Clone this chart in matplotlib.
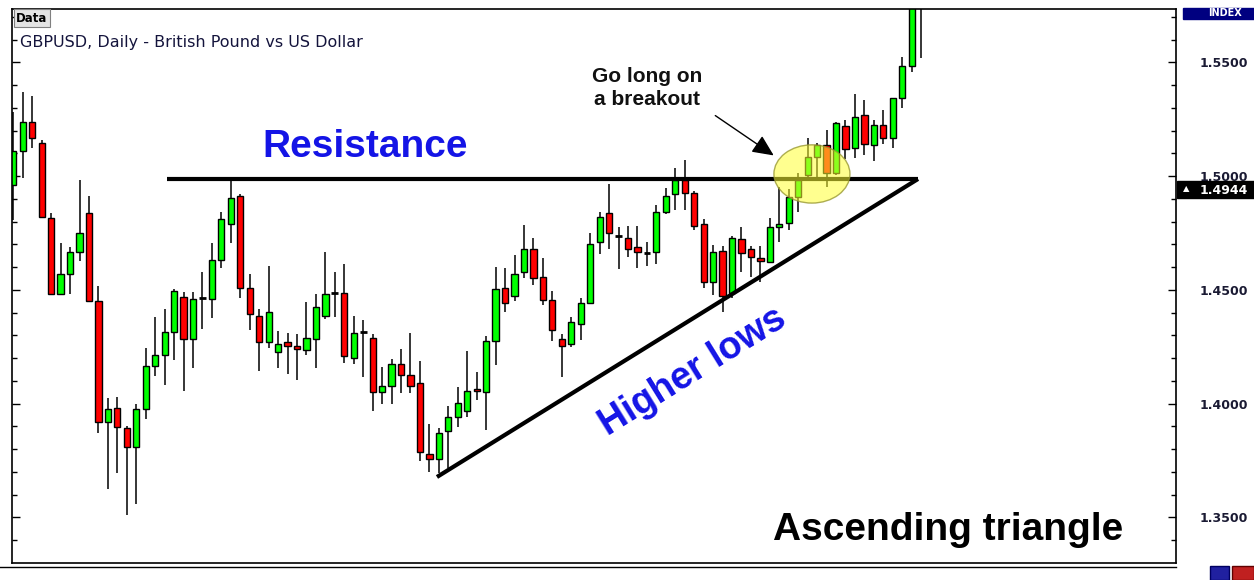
import numpy as np
import matplotlib.pyplot as plt
from matplotlib.patches import Ellipse, Rectangle
from matplotlib.lines import Line2D

# GBPUSD daily candles
opens = [1.4960, 1.5110, 1.5239, 1.5144, 1.4817, 1.4480, 1.4569, 1.4665, 1.4836, 1.4452,
         1.3920, 1.3982, 1.3894, 1.3810, 1.3975, 1.4166, 1.4213, 1.4316, 1.4467, 1.4282,
         1.4465, 1.4459, 1.4631, 1.4788, 1.4912, 1.4509, 1.4385, 1.4269, 1.4228, 1.4269,
         1.4254, 1.4235, 1.4282, 1.4385, 1.4484, 1.4487, 1.4201, 1.4313, 1.4289, 1.4049,
         1.4077, 1.4174, 1.4125, 1.4091, 1.3777, 1.3755, 1.3880, 1.3939, 1.3968, 1.4065,
         1.4051, 1.4275, 1.4509, 1.4473, 1.4577, 1.4679, 1.4557, 1.4455, 1.4282, 1.4262,
         1.4349, 1.4440, 1.4709, 1.4839, 1.4736, 1.4729, 1.4687, 1.4663, 1.4665, 1.4843,
         1.4920, 1.4982, 1.4924, 1.4789, 1.4533, 1.4672, 1.4487, 1.4722, 1.4678, 1.4638,
         1.4623, 1.4777, 1.4795, 1.4909, 1.5004, 1.5085, 1.5136, 1.5012, 1.5220, 1.5122,
         1.5268, 1.5136, 1.5224, 1.5166, 1.5342, 1.5485, 1.5790]
highs = [1.5283, 1.5371, 1.5352, 1.5158, 1.4839, 1.4707, 1.4689, 1.4982, 1.4913, 1.4516,
         1.4025, 1.4030, 1.3902, 1.3998, 1.4245, 1.4382, 1.4414, 1.4502, 1.4489, 1.4489,
         1.4577, 1.4707, 1.4843, 1.4978, 1.4920, 1.4569, 1.4414, 1.4604, 1.4319, 1.4311,
         1.4304, 1.4447, 1.4481, 1.4667, 1.4579, 1.4613, 1.4386, 1.4367, 1.4304, 1.4162,
         1.4194, 1.4238, 1.4311, 1.4188, 1.3909, 1.3894, 1.3990, 1.4071, 1.4231, 1.4138,
         1.4297, 1.4599, 1.4594, 1.4653, 1.4785, 1.4729, 1.4641, 1.4495, 1.4306, 1.4382,
         1.4462, 1.4751, 1.4843, 1.4964, 1.4777, 1.4780, 1.4780, 1.4711, 1.4873, 1.4946,
         1.5036, 1.5070, 1.4935, 1.4810, 1.4697, 1.4694, 1.4736, 1.4775, 1.4692, 1.4692,
         1.4814, 1.4953, 1.4942, 1.5012, 1.5168, 1.5146, 1.5202, 1.5239, 1.5246, 1.5359,
         1.5334, 1.5246, 1.5290, 1.5342, 1.5522, 1.5830, 1.5950]
lows = [1.4807, 1.4990, 1.5122, 1.4818, 1.4477, 1.4477, 1.4480, 1.4628, 1.4445, 1.3872,
        1.3624, 1.3693, 1.3510, 1.3557, 1.3932, 1.4122, 1.4081, 1.4191, 1.4056, 1.4157,
        1.4327, 1.4377, 1.4594, 1.4704, 1.4465, 1.4323, 1.4144, 1.4245, 1.4157, 1.4130,
        1.4103, 1.4213, 1.4157, 1.4370, 1.4382, 1.4177, 1.4172, 1.4118, 1.3967, 1.3996,
        1.3996, 1.4047, 1.4047, 1.3747, 1.3700, 1.3694, 1.3715, 1.3898, 1.3942, 1.4015,
        1.3884, 1.4169, 1.4404, 1.4452, 1.4553, 1.4521, 1.4433, 1.4275, 1.4115, 1.4250,
        1.4279, 1.4437, 1.4657, 1.4678, 1.4590, 1.4645, 1.4597, 1.4606, 1.4612, 1.4832,
        1.4851, 1.4851, 1.4763, 1.4506, 1.4477, 1.4404, 1.4462, 1.4579, 1.4557, 1.4535,
        1.4616, 1.4711, 1.4763, 1.4843, 1.4997, 1.4997, 1.4953, 1.5004, 1.5073, 1.5080,
        1.5092, 1.5066, 1.5141, 1.5122, 1.5300, 1.5458, 1.5517]
closes = [1.5110, 1.5239, 1.5166, 1.4821, 1.4480, 1.4569, 1.4665, 1.4748, 1.4451, 1.3920,
          1.3975, 1.3898, 1.3810, 1.3975, 1.4166, 1.4213, 1.4316, 1.4495, 1.4282, 1.4459,
          1.4465, 1.4631, 1.4810, 1.4905, 1.4509, 1.4392, 1.4269, 1.4404, 1.4262, 1.4254,
          1.4240, 1.4289, 1.4425, 1.4480, 1.4484, 1.4209, 1.4309, 1.4313, 1.4049, 1.4077,
          1.4174, 1.4125, 1.4078, 1.3785, 1.3755, 1.3872, 1.3939, 1.4004, 1.4056, 1.4055,
          1.4276, 1.4502, 1.4440, 1.4569, 1.4679, 1.4550, 1.4455, 1.4323, 1.4254, 1.4357,
          1.4440, 1.4700, 1.4821, 1.4748, 1.4736, 1.4679, 1.4665, 1.4663, 1.4843, 1.4912,
          1.4982, 1.4927, 1.4780, 1.4533, 1.4665, 1.4474, 1.4729, 1.4660, 1.4645, 1.4626,
          1.4775, 1.4788, 1.4909, 1.4982, 1.5085, 1.5136, 1.5012, 1.5232, 1.5117, 1.5261,
          1.5141, 1.5224, 1.5166, 1.5342, 1.5485, 1.5800, 1.5900]

last_price = 1.4944
resistance = 1.4987
W, H = 1254, 580


def fx(px):
    return px / W


def fy(py):
    return 1 - py / H


o = np.array(opens)
c = np.array(closes)
x = np.arange(len(o))

fig = plt.figure(figsize=(W / 100, H / 100), dpi=100)
ax = fig.add_axes([fx(12), fy(563), fx(1176) - fx(12), fy(9) - fy(563)])

# wicks, then bodies
ax.vlines(x, lows, highs, color='#262626', lw=1.3, zorder=1)
up = c > o
down = c < o
flat = c == o
bot = np.minimum(o, c)
hgt = np.abs(c - o)
ax.bar(x[up], hgt[up], bottom=bot[up], width=0.66, color='#00ff00',
       edgecolor='black', lw=1, zorder=2)
ax.bar(x[down], hgt[down], bottom=bot[down], width=0.66, color='#ff0000',
       edgecolor='black', lw=1, zorder=2)
ax.hlines(o[flat], x[flat] - 0.36, x[flat] + 0.36, color='black', lw=2, zorder=2)

# triangle lines
ax.plot([16.25, 95.67], [resistance, resistance], color='black', lw=3,
        solid_capstyle='butt', zorder=5)
ax.plot([44.8, 95.67], [1.3677, resistance], color='black', lw=3,
        solid_capstyle='butt', zorder=5)
ax.add_patch(Ellipse((84.45, 1.5009), 8.04, 0.0256, facecolor=(1, 1, 0.2, 0.55),
                     edgecolor=(0.6, 0.6, 0.2, 0.8), lw=1, zorder=6))

ax.set_xlim(-0.14, 122.95)
ax.set_ylim(1.32989, 1.57341)
ax.set_xticks([])
ax.yaxis.tick_right()
ax.set_yticks(np.arange(1.35, 1.56, 0.05))
ax.set_yticks(np.arange(1.34, 1.575, 0.01), minor=True)
ax.yaxis.set_major_formatter(plt.FormatStrFormatter('%.4f'))
ax.tick_params(axis='y', which='both', left=True, right=True, labelleft=False,
               labelright=True, direction='in', width=1, pad=17)
ax.tick_params(axis='y', which='major', length=6)
ax.tick_params(axis='y', which='minor', length=3.5)
for lab in ax.get_yticklabels():
    lab.set_fontweight('bold')
    lab.set_fontsize(9)
    lab.set_color('#1a1a33')
for s in ax.spines.values():
    s.set_linewidth(1.2)

fig.add_artist(Line2D([0, fx(1176)], [fy(567), fy(567)], color='black', lw=1))

# header texts
fig.text(fx(16), fy(18), 'Data', fontsize=8.5, fontweight='bold', va='center',
         bbox=dict(facecolor='#e4e4e4', edgecolor='#808080', pad=1.5, lw=0.8))
fig.text(fx(20), fy(42), 'GBPUSD, Daily - British Pound vs US Dollar',
         fontsize=11.5, color='#14143c', va='center')

# right side boxes
fig.add_artist(Rectangle((fx(1183), fy(19)), fx(1254) - fx(1183), 11 / H,
                         transform=fig.transFigure, color='#000080'))
fig.text(fx(1208), fy(13.5), 'INDEX', color='white', fontsize=7,
         fontweight='bold', va='center')
fig.add_artist(Rectangle((fx(1177), fy(198)), fx(1254) - fx(1177), 17 / H,
                         transform=fig.transFigure, color='black'))
fig.text(fx(1183), fy(189), '▲', color='white', fontsize=6, va='center')
fig.text(fx(1200), fy(190), '%.4f' % last_price, color='white', fontsize=9,
         fontweight='bold', va='center')
fig.add_artist(Rectangle((fx(1210), fy(580)), 19 / W, 14 / H,
                         transform=fig.transFigure, facecolor='#2020a0',
                         edgecolor='#000060'))
fig.add_artist(Rectangle((fx(1232), fy(580)), 22 / W, 14 / H,
                         transform=fig.transFigure, facecolor='#c02020',
                         edgecolor='#600000'))

# annotations
blue = '#1414e6'
fig.text(fx(365), fy(147), 'Resistance', fontsize=28, fontweight='bold',
         color=blue, ha='center', va='center', family='Liberation Sans')
fig.text(fx(693), fy(372), 'Higher lows', fontsize=27, fontweight='bold',
         color=blue, ha='center', va='center', rotation=31.8,
         rotation_mode='anchor', family='Liberation Sans')
fig.text(fx(948), fy(530), 'Ascending triangle', fontsize=28, fontweight='bold',
         color='black', ha='center', va='center', family='Liberation Sans')
fig.text(fx(647), fy(88), 'Go long on\na breakout', fontsize=15, fontweight='bold',
         color='#111111', ha='center', va='center', linespacing=1.25,
         family='Liberation Sans')
ax.annotate('', xy=(fx(776), fy(157)), xycoords='figure fraction',
            xytext=(fx(713), fy(114)), textcoords='figure fraction',
            arrowprops=dict(arrowstyle='-|>,head_length=0.65,head_width=0.3',
                            color='black', lw=1, mutation_scale=20))

fig.savefig('out.png', dpi=100)
